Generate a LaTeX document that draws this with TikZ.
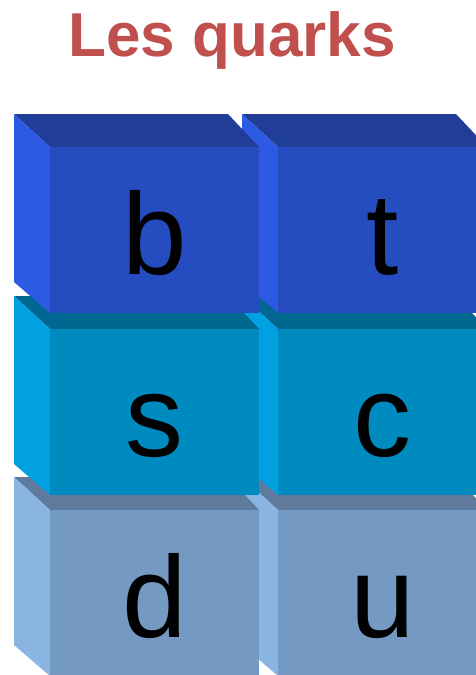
\documentclass[tikz,border=0pt]{standalone}
\usepackage{fontspec}
\setmainfont{Liberation Sans}
\definecolor{titlered}{RGB}{192,80,77}
\definecolor{bfront}{RGB}{38,77,192}
\definecolor{btop}{RGB}{32,62,152}
\definecolor{bleft}{RGB}{44,90,226}
\definecolor{sfront}{RGB}{0,139,192}
\definecolor{stop}{RGB}{0,104,144}
\definecolor{sleft}{RGB}{0,160,225}
\definecolor{dfront}{RGB}{116,154,196}
\definecolor{dtop}{RGB}{94,122,156}
\definecolor{dleft}{RGB}{138,180,226}
\newcommand\qblock[7]{%
  \begin{scope}[shift={(#1,#2)}]
    \fill[#4] (0,0) -- (214,0) -- (245,33) -- (36,33) -- cycle;
    \fill[#5] (0,0) -- (36,33) -- (36,199) -- (0,168) -- cycle;
    \fill[#3] (36,33) rectangle (245,199);
    \node[letter] (#7) at (140.5,160) {#6};
  \end{scope}}
\begin{document}
\begin{tikzpicture}[x=1pt,y=-1pt,
  letter/.style={anchor=base,inner sep=0pt,font=\fontsize{116}{116}\selectfont,text=black},
  titlestyle/.style={anchor=base,inner sep=0pt,font=\fontsize{62}{62}\selectfont\bfseries,text=titlered}]
\useasboundingbox (0,0) rectangle (476,675);
\clip (0,0) rectangle (476,675);
\qblock{242}{477}{dfront}{dtop}{dleft}{u}{qu}
\qblock{14}{477}{dfront}{dtop}{dleft}{d}{qd}
\qblock{242}{296}{sfront}{stop}{sleft}{c}{qc}
\qblock{14}{296}{sfront}{stop}{sleft}{s}{qs}
\qblock{242}{114}{bfront}{btop}{bleft}{t}{qt}
\qblock{14}{114}{bfront}{btop}{bleft}{b}{qb}
\node[titlestyle] (title) at (232,56) {Les quarks};
\end{tikzpicture}
\end{document}
